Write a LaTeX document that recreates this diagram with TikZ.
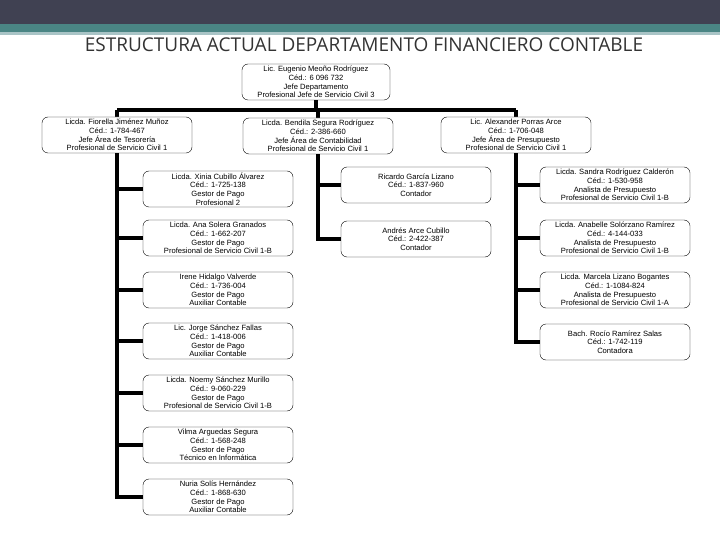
\documentclass[tikz,border=0pt]{standalone}
\usepackage{fontspec}
\setmainfont{Liberation Sans}
\newfontfamily\titlefont{Open Sans}
\usetikzlibrary{positioning}
\definecolor{bannerdark}{HTML}{404152}
\definecolor{bannerteal}{HTML}{4A8584}
\definecolor{bannerlight}{HTML}{A9C4C6}
\begin{document}
\begin{tikzpicture}[
    x=1pt, y=-1pt,
    person/.style={rectangle, rounded corners=6pt, draw=black, thin, fill=white, minimum width=150pt, minimum height=36pt, align=center, inner sep=0.5pt, font=\fontsize{7.6}{8.6}\selectfont},
    link/.style={line width=3.6pt, black}
]
\useasboundingbox (0,0) rectangle (720,540);

% Banner
\fill[bannerdark] (0,0) rectangle (720,24);
\fill[bannerteal] (0,24) rectangle (720,32);
\fill[bannerlight] (0,32) rectangle (720,35);
\node[font=\titlefont\fontsize{19}{21}\selectfont, text=black!80] (title) at (364,45) {ESTRUCTURA ACTUAL DEPARTAMENTO FINANCIERO CONTABLE};

% Connectors first, boxes on top
\coordinate (bus) at (316,110);
\draw[link] (316,100) -- (bus);
\draw[link] (117,110) -- (516,110);
\draw[link] (117,110) -- (117,118);
\draw[link] (318,110) -- (318,118);
\draw[link] (516,110) -- (516,118);
\draw[link] (117,150) -- (117,497) -- (143,497);
\draw[link] (318,150) -- (318,239) -- (342,239);
\draw[link] (516,150) -- (516,342) -- (540,342);
\foreach \y in {189,238,290,341,393,445}
    \draw[link] (117,\y) -- (143,\y);
\draw[link] (318,185) -- (342,185);
\foreach \y in {185,238,290}
    \draw[link] (516,\y) -- (540,\y);

% Jefatura
\node[person, minimum width=148pt] (jefe) at (316,82) {Lic. Eugenio Meoño Rodríguez\\Céd.: 6 096 732\\Jefe Departamento\\Profesional Jefe de Servicio Civil 3};
\node[person] (tesoreria) at (117,135) {Licda. Fiorella Jiménez Muñoz\\Céd.: 1-784-467\\Jefe Área de Tesorería\\Profesional de Servicio Civil 1};
\node[person] (contab) at (318,136) {Licda. Bendila Segura Rodríguez\\Céd.: 2-386-660\\Jefe Área de Contabilidad\\Profesional de Servicio Civil 1};
\node[person] (presup) at (516,135) {Lic. Alexander Porras Arce\\Céd.: 1-706-048\\Jefe Área de Presupuesto\\Profesional de Servicio Civil 1};

% Tesoreria
\node[person] (xinia) at (218,189) {Licda. Xinia Cubillo Álvarez\\Céd.: 1-725-138\\Gestor de Pago\\Profesional 2};
\node[person] (ana) at (218,238) {Licda. Ana Solera Granados\\Céd.: 1-662-207\\Gestor de Pago\\Profesional de Servicio Civil 1-B};
\node[person] (irene) at (218,290) {Irene Hidalgo Valverde\\Céd.: 1-736-004\\Gestor de Pago\\Auxiliar Contable};
\node[person] (jorge) at (218,341) {Lic. Jorge Sánchez Fallas\\Céd.: 1-418-006\\Gestor de Pago\\Auxiliar Contable};
\node[person] (noemy) at (218,393) {Licda. Noemy Sánchez Murillo\\Céd.: 9-060-229\\Gestor de Pago\\Profesional de Servicio Civil 1-B};
\node[person] (vilma) at (218,445) {Vilma Arguedas Segura\\Céd.: 1-568-248\\Gestor de Pago\\Técnico en Informática};
\node[person] (nuria) at (218,497) {Nuria Solís Hernández\\Céd.: 1-868-630\\Gestor de Pago\\Auxiliar Contable};

% Contabilidad
\node[person] (ricardo) at (416,185) {Ricardo García Lizano\\Céd.: 1-837-960\\Contador};
\node[person] (andres) at (416,239) {Andrés Arce Cubillo\\Céd.: 2-422-387\\Contador};

% Presupuesto
\node[person] (sandra) at (615,185) {Licda. Sandra Rodríguez Calderón\\Céd.: 1-530-958\\Analista de Presupuesto\\Profesional de Servicio Civil 1-B};
\node[person] (anabelle) at (615,238) {Licda. Anabelle Solórzano Ramírez\\Céd.: 4-144-033\\Analista de Presupuesto\\Profesional de Servicio Civil 1-B};
\node[person] (marcela) at (615,290) {Licda. Marcela Lizano Bogantes\\Céd.: 1-1084-824\\Analista de Presupuesto\\Profesional de Servicio Civil 1-A};
\node[person] (rocio) at (615,342) {Bach. Rocío Ramírez Salas\\Céd.: 1-742-119\\Contadora};
\end{tikzpicture}
\end{document}
